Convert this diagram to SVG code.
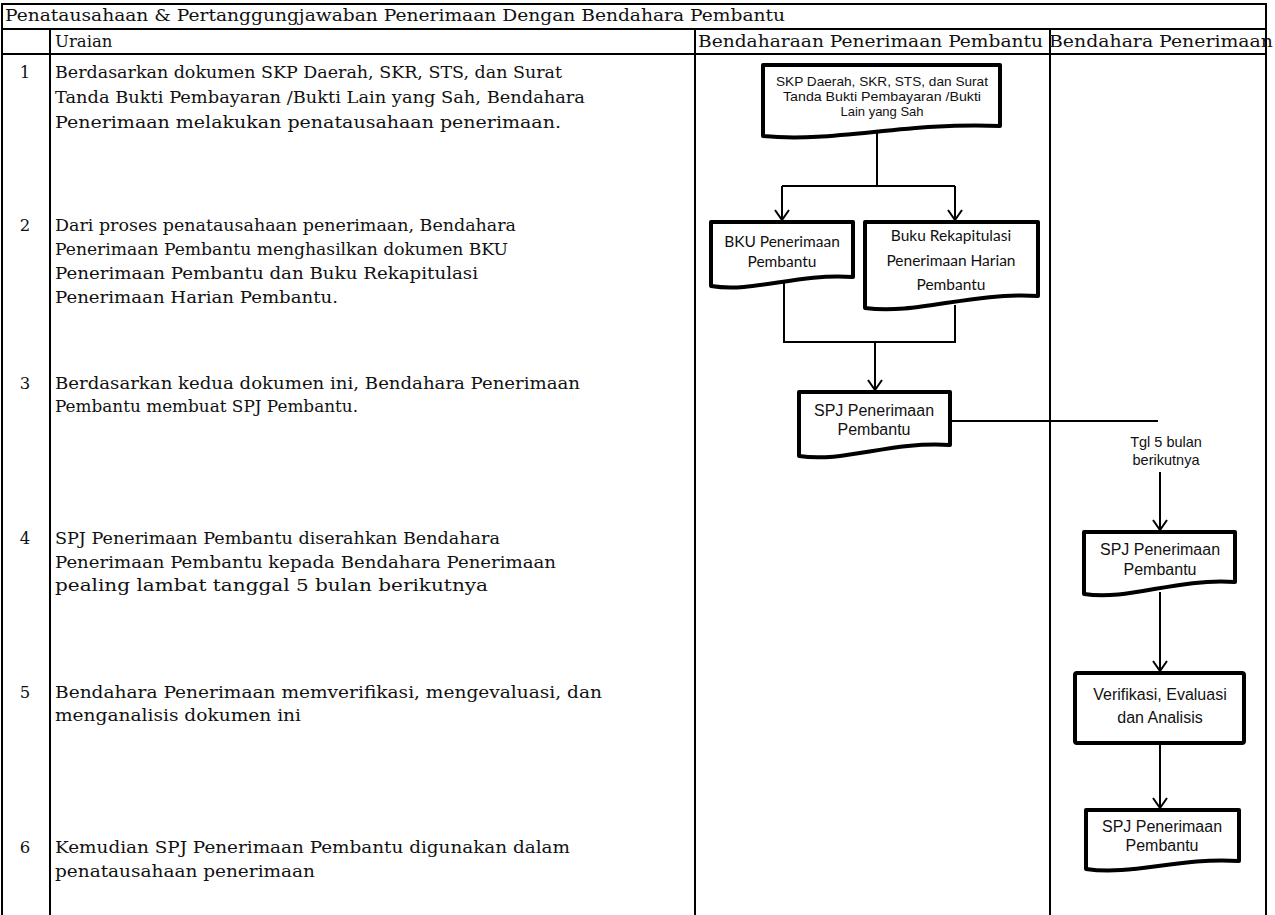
<svg xmlns="http://www.w3.org/2000/svg" width="1275" height="915" viewBox="0 0 1275 915">
<style>
.tbl{stroke:#000;stroke-width:2;fill:none}
.ser{font-family:"DejaVu Serif","Liberation Serif",serif;font-size:16.5px;fill:#111}
.num{font-family:"DejaVu Serif","Liberation Serif",serif;font-size:16.5px;fill:#111;text-anchor:middle}
.doc{fill:#fff;stroke:#000;stroke-width:4;stroke-linejoin:round}
.ar{font-family:"Liberation Sans",Arial,sans-serif;font-size:16px;fill:#111;text-anchor:middle}
.sm{font-family:"Liberation Sans",Arial,sans-serif;font-size:13px;fill:#111;text-anchor:middle}
.cal{font-family:Lato,"Open Sans",sans-serif;font-size:15.5px;fill:#111;text-anchor:middle}
.con{stroke:#000;stroke-width:2;fill:none}
</style>
<defs>
<marker id="chev" markerUnits="userSpaceOnUse" markerWidth="16" markerHeight="16" viewBox="0 0 16 16" refX="12" refY="8" orient="auto">
<path d="M2,1 L12,8 L2,15" fill="none" stroke="#000" stroke-width="2"/>
</marker>
</defs>
<rect width="1275" height="915" fill="#fff"/>
<g id="table">
<rect class="tbl" x="2" y="4" width="1264" height="25"/>
<line class="tbl" x1="2" y1="54" x2="1266" y2="54"/>
<line class="tbl" x1="2" y1="29" x2="2" y2="915"/>
<line class="tbl" x1="50" y1="29" x2="50" y2="915"/>
<line class="tbl" x1="695" y1="29" x2="695" y2="915"/>
<line class="tbl" x1="1050" y1="29" x2="1050" y2="915"/>
<line class="tbl" x1="1266" y1="29" x2="1266" y2="915"/>
<text class="ser" x="5" y="21" textLength="780" lengthAdjust="spacingAndGlyphs">Penatausahaan &amp; Pertanggungjawaban Penerimaan Dengan Bendahara Pembantu</text>
<text class="ser" x="55" y="47">Uraian</text>
<text class="ser" x="698" y="47" textLength="345" lengthAdjust="spacingAndGlyphs">Bendaharaan Penerimaan Pembantu</text>
<text class="ser" x="1049" y="47" textLength="224" lengthAdjust="spacingAndGlyphs">Bendahara Penerimaan</text>
</g>
<g id="uraian">
<text class="num" x="25" y="78">1</text>
<text class="ser" x="55" y="78" textLength="507" lengthAdjust="spacingAndGlyphs">Berdasarkan dokumen SKP Daerah, SKR, STS, dan Surat</text>
<text class="ser" x="55" y="103" textLength="530" lengthAdjust="spacingAndGlyphs">Tanda Bukti Pembayaran /Bukti Lain yang Sah, Bendahara</text>
<text class="ser" x="55" y="128" textLength="506" lengthAdjust="spacingAndGlyphs">Penerimaan melakukan penatausahaan penerimaan.</text>
<text class="num" x="25" y="231">2</text>
<text class="ser" x="55" y="231" textLength="461" lengthAdjust="spacingAndGlyphs">Dari proses penatausahaan penerimaan, Bendahara</text>
<text class="ser" x="55" y="255" textLength="453" lengthAdjust="spacingAndGlyphs">Penerimaan Pembantu menghasilkan dokumen BKU</text>
<text class="ser" x="55" y="279" textLength="423" lengthAdjust="spacingAndGlyphs">Penerimaan Pembantu dan Buku Rekapitulasi</text>
<text class="ser" x="55" y="303" textLength="283" lengthAdjust="spacingAndGlyphs">Penerimaan Harian Pembantu.</text>
<text class="num" x="25" y="389">3</text>
<text class="ser" x="55" y="389" textLength="525" lengthAdjust="spacingAndGlyphs">Berdasarkan kedua dokumen ini, Bendahara Penerimaan</text>
<text class="ser" x="55" y="412" textLength="303" lengthAdjust="spacingAndGlyphs">Pembantu membuat SPJ Pembantu.</text>
<text class="num" x="25" y="544">4</text>
<text class="ser" x="55" y="544" textLength="445" lengthAdjust="spacingAndGlyphs">SPJ Penerimaan Pembantu diserahkan Bendahara</text>
<text class="ser" x="55" y="568" textLength="501" lengthAdjust="spacingAndGlyphs">Penerimaan Pembantu kepada Bendahara Penerimaan</text>
<text class="ser" x="55" y="591" textLength="433" lengthAdjust="spacingAndGlyphs">pealing lambat tanggal 5 bulan berikutnya</text>
<text class="num" x="25" y="698">5</text>
<text class="ser" x="55" y="698" textLength="547" lengthAdjust="spacingAndGlyphs">Bendahara Penerimaan memverifikasi, mengevaluasi, dan</text>
<text class="ser" x="55" y="721" textLength="246" lengthAdjust="spacingAndGlyphs">menganalisis dokumen ini</text>
<text class="num" x="25" y="853">6</text>
<text class="ser" x="55" y="853" textLength="515" lengthAdjust="spacingAndGlyphs">Kemudian SPJ Penerimaan Pembantu digunakan dalam</text>
<text class="ser" x="55" y="877" textLength="260" lengthAdjust="spacingAndGlyphs">penatausahaan penerimaan</text>
</g>
<g id="connectors">
<path class="con" d="M877,132 V186"/>
<path class="con" d="M782,186 H955"/>
<path class="con" d="M782,186 V220" marker-end="url(#chev)"/>
<path class="con" d="M955,186 V220" marker-end="url(#chev)"/>
<path class="con" d="M784,283 V342 H955 V305"/>
<path class="con" d="M875,342 V390" marker-end="url(#chev)"/>
<path class="con" d="M950,421 H1158"/>
<path class="con" d="M1160,472 V530" marker-end="url(#chev)"/>
<path class="con" d="M1160,592 V671" marker-end="url(#chev)"/>
<path class="con" d="M1160,743 V808" marker-end="url(#chev)"/>
<text class="ar" x="1166" y="447" style="font-size:14.5px">Tgl 5 bulan</text>
<text class="ar" x="1166" y="465" style="font-size:14.5px">berikutnya</text>
</g>
<g id="skp">
<path class="doc" d="M763,65 H1000 V126 C905,122 834,143 763,136 Z"/>
<text class="sm" x="882" y="86" textLength="212" lengthAdjust="spacingAndGlyphs">SKP Daerah, SKR, STS, dan Surat</text>
<text class="sm" x="882" y="101" textLength="198" lengthAdjust="spacingAndGlyphs">Tanda Bukti Pembayaran /Bukti</text>
<text class="sm" x="882" y="116">Lain yang Sah</text>
</g>
<g id="bku">
<path class="doc" d="M711,222 H853 V277 C796,273 754,293 711,286 Z"/>
<text class="cal" x="782" y="247">BKU Penerimaan</text>
<text class="cal" x="782" y="267">Pembantu</text>
</g>
<g id="buku">
<path class="doc" d="M865,222 H1038 V296 C969,292 917,315 865,308 Z"/>
<text class="cal" x="951" y="241">Buku Rekapitulasi</text>
<text class="cal" x="951" y="266">Penerimaan Harian</text>
<text class="cal" x="951" y="290">Pembantu</text>
</g>
<g id="spj1">
<path class="doc" d="M799,392 H950 V445 C890,441 844,463 799,456 Z"/>
<text class="ar" x="874" y="416">SPJ Penerimaan</text>
<text class="ar" x="874" y="435">Pembantu</text>
</g>
<g id="spj2">
<path class="doc" d="M1084,532 H1235 V582 C1175,578 1129,601 1084,594 Z"/>
<text class="ar" x="1160" y="555">SPJ Penerimaan</text>
<text class="ar" x="1160" y="575">Pembantu</text>
</g>
<g id="verifikasi">
<rect class="doc" x="1075" y="673" width="169" height="70" rx="2"/>
<text class="ar" x="1160" y="700">Verifikasi, Evaluasi</text>
<text class="ar" x="1160" y="723">dan Analisis</text>
</g>
<g id="spj3">
<path class="doc" d="M1086,810 H1239 V861 C1178,857 1132,876 1086,869 Z"/>
<text class="ar" x="1162" y="832">SPJ Penerimaan</text>
<text class="ar" x="1162" y="851">Pembantu</text>
</g>
</svg>
